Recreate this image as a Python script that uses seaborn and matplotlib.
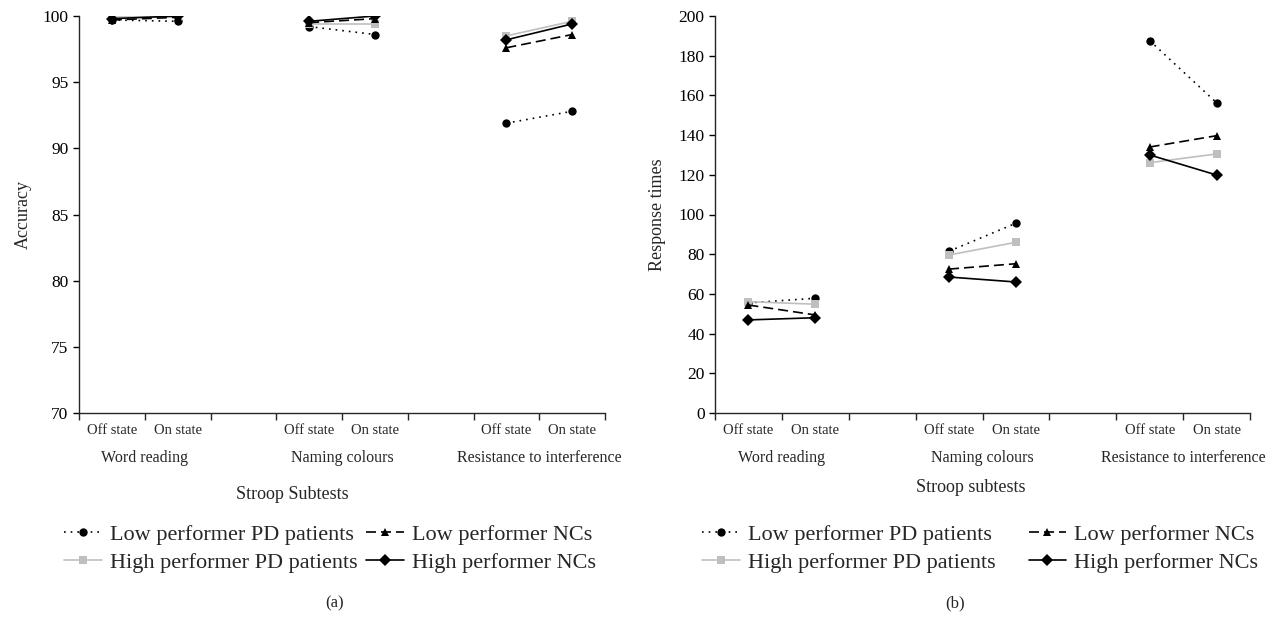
import numpy as np
import pandas as pd
import seaborn as sns
import matplotlib
matplotlib.use('Agg')
import matplotlib.pyplot as plt
from matplotlib.transforms import blended_transform_factory

subtests = ["Word reading", "Naming colours", "Resistance to interference"]
states = ["Off state", "On state"]
series = ["Low performer PD patients", "High performer PD patients",
          "Low performer NCs", "High performer NCs"]

# (a) accuracy: off/on for word reading, naming colours, resistance
acc_low_pd = [99.7, 99.6, 99.2, 98.6, 91.9, 92.8]
acc_high_pd = [99.9, 99.9, 99.4, 99.4, 98.5, 99.6]
acc_low_nc = [99.7, 99.9, 99.5, 99.8, 97.6, 98.6]
acc_high_nc = [99.8, 100.0, 99.6, 100.0, 98.2, 99.4]

# (b) response times
rt_low_pd = [55.5, 57.8, 81.5, 95.6, 187.6, 156.3]
rt_high_pd = [56.1, 54.8, 79.6, 86.0, 126.1, 130.5]
rt_low_nc = [54.4, 49.4, 72.5, 75.2, 134.0, 139.7]
rt_high_nc = [46.9, 48.0, 68.5, 66.0, 130.0, 119.9]

palette = {series[0]: "black", series[1]: "#bfbfbf",
           series[2]: "black", series[3]: "black"}
dashes = {series[0]: (1, 3), series[1]: "", series[2]: (6, 3), series[3]: ""}
markers = {series[0]: "o", series[1]: "s", series[2]: "^", series[3]: "D"}


def to_long(cols):
    rows = []
    for name, vals in zip(series, cols):
        for k, v in enumerate(vals):
            i, j = divmod(k, 2)
            rows.append(dict(series=name, subtest=subtests[i], pos=3 * i + j, value=v))
    return pd.DataFrame(rows)


sns.set_style("ticks")
plt.rcParams['font.family'] = ['Liberation Serif', 'DejaVu Serif']
plt.rcParams['axes.linewidth'] = 1.0

fig = plt.figure(figsize=(12.72, 6.23), dpi=100)
axa = fig.add_axes([79 / 1272, 1 - 413 / 623, 526 / 1272, 397 / 623])
axb = fig.add_axes([715 / 1272, 1 - 413 / 623, 535 / 1272, 397 / 623])


def draw(ax, cols, ylim, yticks, ylabel, xlabel, xlab_x, xlab_y):
    df = to_long(cols)
    sns.lineplot(data=df, x="pos", y="value", hue="series", style="series",
                 units="subtest", estimator=None, hue_order=series, style_order=series,
                 palette=palette, dashes=dashes, markers=markers, markersize=6,
                 markeredgewidth=0, linewidth=1.2, ax=ax)
    handles, labels = ax.get_legend_handles_labels()
    ax.get_legend().remove()
    sns.despine(ax=ax)
    ax.set_xlim(-0.5, 7.5)
    ax.set_ylim(*ylim)
    ax.set_yticks(yticks)
    ax.tick_params(axis="y", labelsize=12.5, length=4, width=1, colors="black")
    ax.set_xticks(range(8))
    ax.set_xticklabels(["Off state", "On state", "", "Off state", "On state", "",
                        "Off state", "On state"], fontsize=10.5)
    ax.set_xticks(np.arange(-0.5, 8, 1), minor=True)
    ax.tick_params(axis="x", which="major", length=0, pad=8)
    ax.tick_params(axis="x", which="minor", length=5, width=1)
    trans = blended_transform_factory(ax.transData, ax.transAxes)
    for i, name in enumerate(subtests):
        ax.text(3 * i + 0.5, -0.113, name, transform=trans, ha="center",
                va="center", fontsize=11.5)
    ax.set_ylabel(ylabel, fontsize=13)
    ax.set_xlabel(xlabel, fontsize=13)
    ax.xaxis.set_label_coords(xlab_x, xlab_y)
    return handles, labels


h, l = draw(axa, [acc_low_pd, acc_high_pd, acc_low_nc, acc_high_nc],
            (70, 100), range(70, 101, 5), "Accuracy", "Stroop Subtests", 0.405, -0.185)
axa.yaxis.set_label_coords(-0.09, 0.5)
draw(axb, [rt_low_pd, rt_high_pd, rt_low_nc, rt_high_nc],
     (0, 200), range(0, 201, 20), "Response times", "Stroop subtests", 0.478, -0.165)
axb.yaxis.set_label_coords(-0.092, 0.5)

for x0, colsp in [(64, 0.4), (702, 1.5)]:
    fig.legend(h, l, loc="upper left", bbox_to_anchor=(x0 / 1272, 1 - 524 / 623),
               ncol=2, frameon=False, fontsize=16, handlelength=1.7,
               handletextpad=0.35, columnspacing=colsp, labelspacing=0.35,
               borderaxespad=0, borderpad=0)

fig.text(335 / 1272, 1 - 603 / 623, "(a)", ha="center", va="center", fontsize=12)
fig.text(955 / 1272, 1 - 603 / 623, "(b)", ha="center", va="center", fontsize=12)

fig.savefig("out.png", dpi=100)
